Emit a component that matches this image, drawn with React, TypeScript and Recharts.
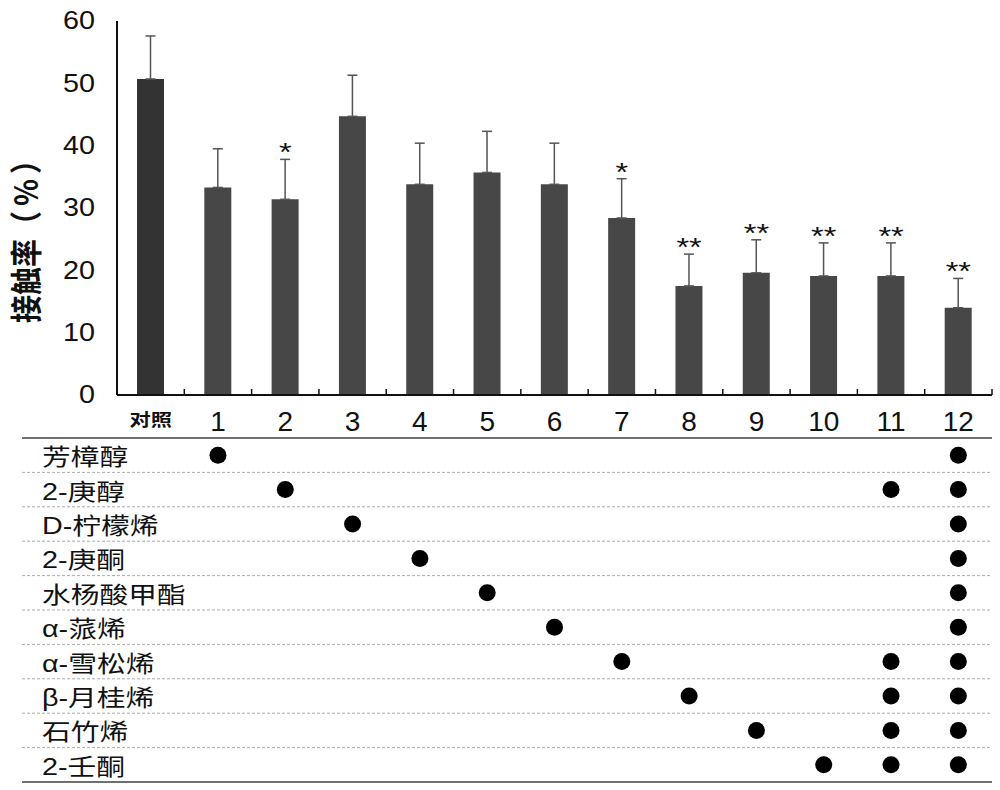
import React from 'react';
import {
  ComposedChart,
  Bar,
  Line,
  XAxis,
  YAxis,
  ErrorBar,
  Cell,
  LabelList,
  Scatter,
  ReferenceLine
} from 'recharts';

// treatments on the x axis
const groups = ['对照', '1', '2', '3', '4', '5', '6', '7', '8', '9', '10', '11', '12'];
// contact rate (%) means and upper error (SD)
const means = [50.7, 33.3, 31.4, 44.7, 33.8, 35.7, 33.8, 28.4, 17.5, 19.6, 19.1, 19.1, 14.0];
const errors = [6.9, 6.2, 6.4, 6.6, 6.6, 6.6, 6.6, 6.3, 5.1, 5.3, 5.3, 5.3, 4.7];
const marks = ['', '', '*', '', '', '', '', '*', '**', '**', '**', '**', '**'];
const yTicks = [0, 10, 20, 30, 40, 50, 60];

// compounds in each treatment
const compounds = ['芳樟醇', '2-庚醇', 'D-柠檬烯', '2-庚酮', '水杨酸甲酯', 'α-蒎烯', 'α-雪松烯', 'β-月桂烯', '石竹烯', '2-壬酮'];
const usedIn = [
  ['1', '12'],
  ['2', '11', '12'],
  ['3', '12'],
  ['4', '12'],
  ['5', '12'],
  ['6', '12'],
  ['7', '11', '12'],
  ['8', '11', '12'],
  ['9', '11', '12'],
  ['10', '11', '12']
];

const barData = groups.map((name, i) => ({
  name,
  mean: means[i],
  err: [0, errors[i]],
  top: means[i] + errors[i],
  sig: marks[i]
}));

const dots = compounds.flatMap((_, row) =>
  usedIn[row].map((g) => ({ x: groups.indexOf(g), y: row + 0.5 }))
);

const LATIN = '"Liberation Sans", Arial, "Noto Sans CJK SC", sans-serif';

const GroupTick = (props: any) => {
  const { x, y, payload } = props;
  const half = payload.offset ? payload.offset : 33.65;
  const ctrl = payload.value === '对照';
  return (
    <g>
      <line x1={x + half} y1={y} x2={x + half} y2={y - 6} stroke="#111" strokeWidth={1.5} />
      {ctrl ? (
        <text
          transform={`translate(${x},${y + 24}) scale(1.25,1)`}
          textAnchor="middle"
          dominantBaseline="central"
          fontFamily='"Noto Sans CJK SC", sans-serif'
          fontWeight={700}
          fontSize={17}
          fill="#111"
        >
          {payload.value}
        </text>
      ) : (
        <text x={x} y={y + 26} textAnchor="middle" dominantBaseline="central" fontFamily={LATIN} fontSize={28} fill="#111">
          {payload.value}
        </text>
      )}
    </g>
  );
};

const ValueTick = (props: any) => {
  const { x, y, payload } = props;
  return (
    <text
      transform={`translate(${x - 22},${y}) scale(1.15,1)`}
      textAnchor="end"
      dominantBaseline="central"
      fontFamily={LATIN}
      fontSize={25}
      fill="#111"
    >
      {payload.value}
    </text>
  );
};

const YTitle = () => (
  <text
    transform="translate(24,232) scale(1.15,1) rotate(-90)"
    textAnchor="middle"
    dominantBaseline="central"
    fontFamily='"Noto Sans CJK SC", sans-serif'
    fontWeight={700}
    fontSize={28}
    fill="#111"
  >
    接触率
    <tspan letterSpacing={5}>（%）</tspan>
  </text>
);

const StarLabel = (props: any) => {
  const { x, y, value } = props;
  if (!value) return null;
  return (
    <text
      transform={`translate(${x},${y + 2}) scale(1.25,1)`}
      textAnchor="middle"
      fontFamily={LATIN}
      fontSize={26}
      fill="#111"
    >
      {value}
    </text>
  );
};

const NameLabel = (props: any) => {
  const { viewBox, name } = props;
  return (
    <text
      transform={`translate(42,${viewBox.y + 2}) scale(1.25,1)`}
      textAnchor="start"
      dominantBaseline="central"
      fontFamily='"Liberation Sans", "Noto Sans CJK SC", sans-serif'
      fontSize={23}
      fill="#111"
    >
      {name}
    </text>
  );
};

const DotShape = (props: any) => <circle cx={props.cx} cy={props.cy} r={8.5} fill="#000" />;

export default function App() {
  return (
    <div style={{ position: 'absolute', left: 0, top: 0, width: 1000, height: 790, background: '#fff' }}>
      <div style={{ position: 'absolute', left: 0, top: 0 }}>
        <ComposedChart width={1000} height={445} data={barData} margin={{ top: 21, right: 8, left: 0, bottom: 0 }}>
          <XAxis
            dataKey="name"
            height={50}
            tickSize={0}
            tickMargin={0}
            tickLine={false}
            axisLine={{ stroke: '#111', strokeWidth: 2 }}
            tick={<GroupTick />}
            interval={0}
          />
          <YAxis
            width={117}
            domain={[0, 60]}
            ticks={yTicks}
            tickSize={0}
            tickMargin={0}
            tickLine={false}
            axisLine={{ stroke: '#111', strokeWidth: 2 }}
            tick={<ValueTick />}
            label={<YTitle />}
          />
          <Bar dataKey="mean" barSize={27} isAnimationActive={false}>
            {barData.map((d, i) => (
              <Cell key={d.name} fill={i === 0 ? '#333333' : '#474747'} />
            ))}
            <ErrorBar dataKey="err" direction="y" width={5} stroke="#555" strokeWidth={1.5} />
          </Bar>
          <Line dataKey="top" stroke="none" dot={false} activeDot={false} isAnimationActive={false}>
            <LabelList dataKey="sig" content={<StarLabel />} />
          </Line>
        </ComposedChart>
      </div>
      <div style={{ position: 'absolute', left: 0, top: 430 }}>
        <ComposedChart width={1000} height={360} margin={{ top: 8, right: 8, left: 22, bottom: 8 }}>
          <XAxis
            type="number"
            dataKey="x"
            domain={[-0.5, 12.5]}
            allowDataOverflow
            padding={{ left: 95, right: 0 }}
            hide
          />
          <YAxis
            type="number"
            dataKey="y"
            domain={[0, 10]}
            allowDataOverflow
            reversed
            width={0}
            tick={false}
            tickLine={false}
            axisLine={false}
          />
          {compounds.map((c, i) =>
            i > 0 ? (
              <ReferenceLine key={'l' + c} y={i} stroke="#aaa" strokeDasharray="3 2" strokeWidth={1} />
            ) : null
          )}
          <ReferenceLine y={0} stroke="#707070" strokeWidth={2} />
          <ReferenceLine y={10} stroke="#707070" strokeWidth={2} />
          {compounds.map((c, i) => (
            <ReferenceLine key={'n' + c} y={i + 0.5} stroke="none" label={<NameLabel name={c} />} />
          ))}
          <Scatter data={dots} shape={<DotShape />} isAnimationActive={false} />
        </ComposedChart>
      </div>
    </div>
  );
}
